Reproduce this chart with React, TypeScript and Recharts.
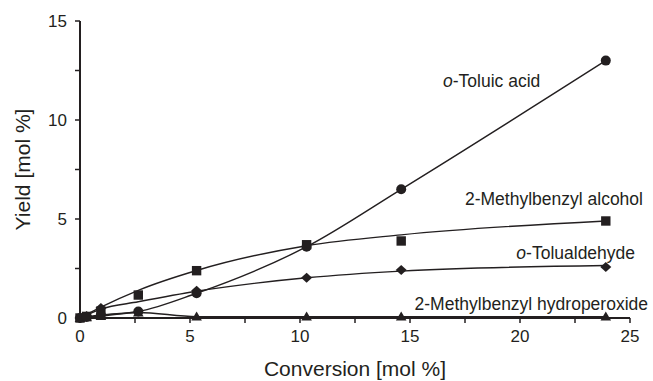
import React from 'react';
import { ComposedChart, Line, Scatter, XAxis, YAxis, ReferenceDot } from 'recharts';

// conversion [mol %] at each sampling point
const conversion = [0, 0.3, 0.95, 2.65, 5.3, 10.3, 14.6, 23.9];

// product yields [mol %]
const toluicAcid = [0, 0.05, 0.15, 0.33, 1.25, 3.6, 6.5, 13.0];
const benzylAlcohol = [0, 0.08, 0.35, 1.16, 2.39, 3.7, 3.89, 4.9];
const tolualdehyde = [0, 0.1, 0.5, null, 1.38, 2.03, 2.42, 2.58];
const hydroperoxide = [0, 0.04, 0.1, 0.28, 0.07, 0.07, 0.07, 0.07];

// smoothed trend curves for alcohol and aldehyde
const trendConversion = [0, 0.95, 2.65, 5.3, 10.3, 14.6, 23.9];
const alcoholTrend = [0, 0.55, 1.4, 2.4, 3.65, 4.2, 4.9];
const aldehydeTrend = [0, 0.45, 0.82, 1.35, 2.03, 2.37, 2.65];

const xTicks = [0, 2.5, 5, 7.5, 10, 12.5, 15, 17.5, 20, 22.5, 25];
const yTicks = [0, 2.5, 5, 7.5, 10, 12.5, 15];

const INK = '#231f20';
const FONT = '"Liberation Sans", Arial, sans-serif';

const toPoints = (xs: number[], ys: (number | null)[]) =>
  xs.map((x, i) => ({ x, y: ys[i] })).filter((d) => d.y != null);

const circle = (p: any) => <circle cx={p.cx} cy={p.cy} r={5} fill={INK} />;
const square = (p: any) => <rect x={p.cx - 4.7} y={p.cy - 4.7} width={9.4} height={9.4} fill={INK} />;
const diamond = (p: any) => (
  <polygon
    points={`${p.cx},${p.cy - 5} ${p.cx + 5.5},${p.cy} ${p.cx},${p.cy + 5} ${p.cx - 5.5},${p.cy}`}
    fill={INK}
  />
);
const triangle = (p: any) => (
  <polygon
    points={`${p.cx},${p.cy - 5} ${p.cx + 5.3},${p.cy + 4} ${p.cx - 5.3},${p.cy + 4}`}
    fill={INK}
  />
);

const XTick = (props: any) => {
  const { x, y, payload } = props;
  if (payload.value % 5 !== 0) return <g />;
  return (
    <text x={x} y={y} dy="0.71em" textAnchor="middle" fill={INK} fontSize={17} fontFamily={FONT}>
      {payload.value}
    </text>
  );
};

const YTick = (props: any) => {
  const { x, y, payload } = props;
  if (payload.value % 5 !== 0) return <g />;
  return (
    <text x={x} y={y} dy="0.36em" textAnchor="end" fill={INK} fontSize={17} fontFamily={FONT}>
      {payload.value}
    </text>
  );
};

// text placed by its baseline at a data coordinate
const annotation = (children: React.ReactNode, anchor: 'start' | 'end') => (props: any) => {
  const vb = props.viewBox || {};
  const x = vb.x + (vb.width || 0) / 2;
  const y = vb.y + (vb.height || 0) / 2;
  return (
    <text x={x} y={y} textAnchor={anchor} fill={INK} fontSize={17.5} fontFamily={FONT}>
      {children}
    </text>
  );
};

export default function App() {
  return (
    <div style={{ position: 'absolute', left: 0, top: 0, background: '#fff' }}>
      <ComposedChart width={653} height={381} margin={{ top: 21, right: 23, bottom: 0, left: 0 }}>
        <XAxis
          type="number"
          dataKey="x"
          domain={[0, 25]}
          ticks={xTicks}
          interval={0}
          height={63}
          tickSize={5}
          tickMargin={7}
          axisLine={{ stroke: INK, strokeWidth: 2 }}
          tickLine={{ stroke: INK, strokeWidth: 1.5 }}
          tick={<XTick />}
          label={{
            content: (p: any) => (
              <text
                x={p.viewBox.x + p.viewBox.width / 2}
                y={p.viewBox.y + 58}
                textAnchor="middle"
                fill={INK}
                fontSize={21}
                fontFamily={FONT}
              >
                Conversion [mol %]
              </text>
            ),
          }}
        />
        <YAxis
          type="number"
          dataKey="y"
          domain={[0, 15]}
          ticks={yTicks}
          interval={0}
          width={80}
          tickSize={5}
          tickMargin={8}
          axisLine={{ stroke: INK, strokeWidth: 2 }}
          tickLine={{ stroke: INK, strokeWidth: 1.5 }}
          tick={<YTick />}
          label={{
            content: (p: any) => {
              const cx = 30;
              const cy = p.viewBox.y + p.viewBox.height / 2;
              return (
                <text
                  x={cx}
                  y={cy}
                  transform={`rotate(-90 ${cx} ${cy})`}
                  textAnchor="middle"
                  fill={INK}
                  fontSize={21}
                  fontFamily={FONT}
                >
                  Yield [mol %]
                </text>
              );
            },
          }}
        />

        <Line
          data={toPoints(conversion, toluicAcid)}
          dataKey="y"
          type="monotone"
          stroke={INK}
          strokeWidth={1.4}
          dot={false}
          activeDot={false}
          isAnimationActive={false}
        />
        <Line
          data={toPoints(trendConversion, alcoholTrend)}
          dataKey="y"
          type="monotone"
          stroke={INK}
          strokeWidth={1.4}
          dot={false}
          activeDot={false}
          isAnimationActive={false}
        />
        <Line
          data={toPoints(trendConversion, aldehydeTrend)}
          dataKey="y"
          type="monotone"
          stroke={INK}
          strokeWidth={1.4}
          dot={false}
          activeDot={false}
          isAnimationActive={false}
        />
        <Line
          data={toPoints(conversion, hydroperoxide)}
          dataKey="y"
          type="monotone"
          stroke={INK}
          strokeWidth={1.4}
          dot={false}
          activeDot={false}
          isAnimationActive={false}
        />

        <Scatter data={toPoints(conversion, hydroperoxide)} dataKey="y" shape={triangle} isAnimationActive={false} />
        <Scatter data={toPoints(conversion, tolualdehyde)} dataKey="y" shape={diamond} isAnimationActive={false} />
        <Scatter data={toPoints(conversion, benzylAlcohol)} dataKey="y" shape={square} isAnimationActive={false} />
        <Scatter data={toPoints(conversion, toluicAcid)} dataKey="y" shape={circle} isAnimationActive={false} />

        <ReferenceDot
          x={16.5}
          y={11.67}
          r={1}
          fill="none"
          stroke="none"
          ifOverflow="visible"
          label={{
            content: annotation(
              <>
                <tspan fontStyle="italic">o</tspan>-Toluic acid
              </>,
              'start'
            ),
          }}
        />
        <ReferenceDot
          x={25.59}
          y={5.71}
          r={1}
          fill="none"
          stroke="none"
          ifOverflow="visible"
          label={{ content: annotation('2-Methylbenzyl alcohol', 'end') }}
        />
        <ReferenceDot
          x={25.23}
          y={2.98}
          r={1}
          fill="none"
          stroke="none"
          ifOverflow="visible"
          label={{
            content: annotation(
              <>
                <tspan fontStyle="italic">o</tspan>-Tolualdehyde
              </>,
              'end'
            ),
          }}
        />
        <ReferenceDot
          x={25.82}
          y={0.4}
          r={1}
          fill="none"
          stroke="none"
          ifOverflow="visible"
          label={{ content: annotation('2-Methylbenzyl hydroperoxide', 'end') }}
        />
      </ComposedChart>
    </div>
  );
}
